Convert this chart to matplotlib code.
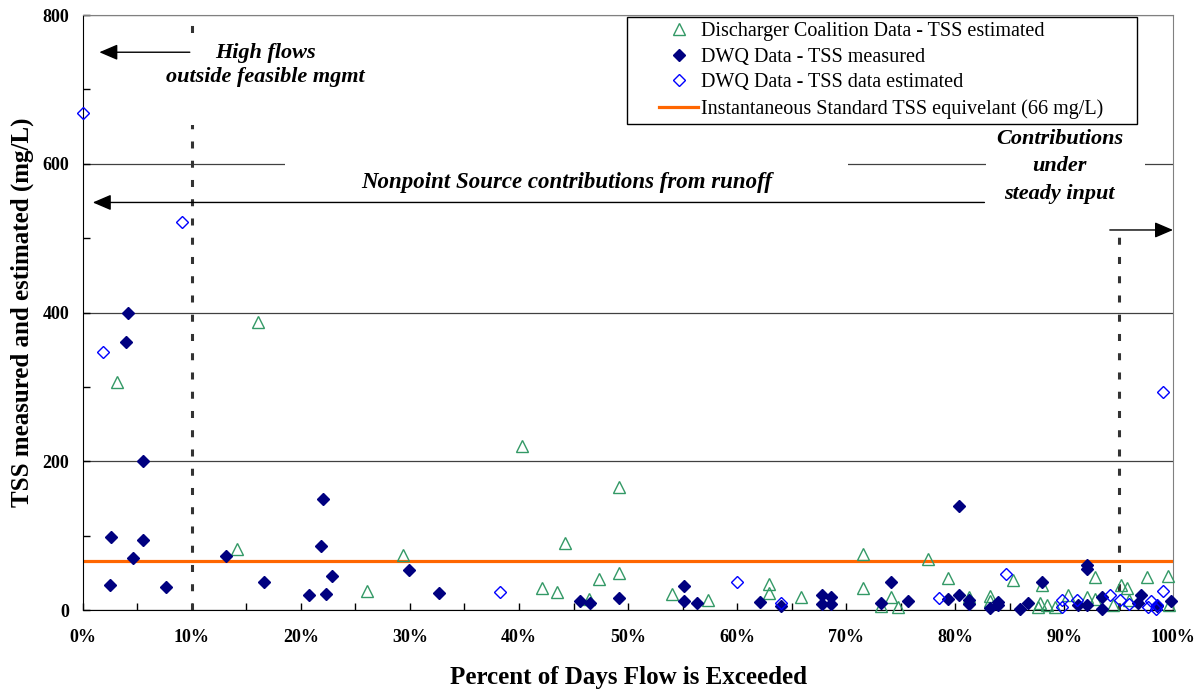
import matplotlib
matplotlib.use('Agg')
import matplotlib.pyplot as plt
from matplotlib.lines import Line2D
from matplotlib.legend_handler import HandlerLine2D
from matplotlib.patches import Rectangle
from matplotlib.ticker import MultipleLocator, PercentFormatter

plt.rcParams['font.family'] = ['Liberation Serif', 'DejaVu Serif']

# Discharger Coalition Data - TSS estimated (percent exceeded, mg/L)
coal_pct = [3.1, 14.1, 16.1, 26.1, 29.4, 40.3, 42.1, 43.5, 44.2, 46.4, 47.3, 49.2, 49.2,
            54.0, 57.3, 62.9, 62.9, 65.9, 71.6, 71.6, 73.2, 74.1, 74.8, 77.5, 79.4, 81.3,
            83.2, 83.2, 85.3, 87.6, 87.8, 88.0, 88.4, 89.2, 90.4, 92.1, 92.8, 92.8, 94.5,
            95.2, 95.8, 96.0, 97.6, 99.5, 99.6]
coal_tss = [306, 82, 387, 25, 74, 221, 29, 24, 90, 15, 42, 165, 50,
            21, 13, 35, 23, 17, 75, 30, 6, 17, 4, 68, 43, 17,
            19, 12, 41, 4, 9, 34, 7, 4, 20, 17, 44, 15, 7,
            34, 29, 13, 44, 46, 7]

# DWQ Data - TSS measured
meas_pct = [2.5, 2.6, 3.9, 4.1, 4.6, 5.5, 5.5, 7.6, 13.1, 16.6, 20.7, 21.8, 22.0, 22.3,
            22.8, 29.9, 32.7, 45.6, 46.5, 49.2, 55.1, 55.1, 56.3, 62.1, 64.0, 67.8, 67.8,
            68.6, 68.6, 73.2, 74.1, 75.7, 79.4, 80.4, 80.4, 81.3, 81.3, 83.2, 83.9, 83.9,
            86.0, 86.7, 88.0, 91.3, 92.1, 92.1, 92.1, 93.5, 93.5, 96.8, 97.1, 98.5, 99.8]
meas_tss = [34, 98, 360, 400, 70, 94, 200, 31, 73, 38, 20, 86, 149, 21,
            46, 54, 23, 12, 9, 16, 32, 12, 9, 11, 5, 20, 8,
            18, 8, 10, 38, 12, 15, 140, 20, 13, 8, 3, 11, 7,
            1, 9, 38, 7, 60, 55, 7, 18, 2, 9, 20, 6, 12]

# DWQ Data - TSS data estimated
est_pct = [0.0, 1.8, 9.1, 38.3, 60.0, 64.0, 78.5, 84.7, 89.8, 89.8, 91.2, 94.2, 95.1,
           96.0, 97.7, 98.0, 98.4, 98.5, 99.1, 99.1]
est_tss = [668, 347, 522, 24, 38, 10, 16, 49, 13, 4, 13, 20, 13,
           8, 4, 12, 2, 7, 25, 293]

standard = 66
zone_bounds = [10, 95]

fig = plt.figure(figsize=(12.01, 6.9), dpi=100)
ax = fig.add_axes([0.0691, 0.1159, 0.9076, 0.8623])

ax.set_xlim(0, 100)
ax.set_ylim(0, 800)
ax.set_axisbelow(True)
ax.grid(axis='y', color='#404040', lw=0.9)
ax.xaxis.set_major_locator(MultipleLocator(10))
ax.xaxis.set_minor_locator(MultipleLocator(5))
ax.yaxis.set_major_locator(MultipleLocator(200))
ax.yaxis.set_minor_locator(MultipleLocator(100))
ax.xaxis.set_major_formatter(PercentFormatter(xmax=100, decimals=0))
ax.tick_params(which='both', direction='in', length=5, width=1)
ax.tick_params(axis='x', pad=14)
ax.tick_params(axis='y', pad=10)
for lab in ax.get_xticklabels() + ax.get_yticklabels():
    lab.set_fontsize(13)
    lab.set_fontweight('bold')
ax.spines['top'].set_color('#808080')
ax.spines['right'].set_color('#808080')

# vertical zone dividers
for b in zone_bounds:
    ax.axvline(b, color='#333333', lw=2.2, ls=(0, (2.3, 4)), zorder=1.5)

# white text boxes that hide grid/divider lines
for x0, y0, w, h in [(0.096, 0.815, 0.167, 0.151), (0.185, 0.696, 0.517, 0.077),
                     (0.828, 0.635, 0.146, 0.185)]:
    ax.add_patch(Rectangle((x0, y0), w, h, transform=ax.transAxes,
                           facecolor='white', edgecolor='none', zorder=2))

ax.axhline(standard, color='#FF6600', lw=2.3, zorder=2.5,
           label='Instantaneous Standard TSS equivelant (66 mg/L)')
ax.plot(coal_pct, coal_tss, ls='none', marker='^', ms=9, mfc='none', mec='#339966',
        mew=1, zorder=3, clip_on=False, label='Discharger Coalition Data - TSS estimated')
ax.plot(meas_pct, meas_tss, ls='none', marker='D', ms=6.3, color='#000080',
        zorder=3, clip_on=False, label='DWQ Data - TSS measured')
ax.plot(est_pct, est_tss, ls='none', marker='D', ms=6.3, mfc='none', mec='#0000FF',
        mew=1, zorder=3, clip_on=False, label='DWQ Data - TSS data estimated')

# annotations
txt = dict(fontweight='bold', fontstyle='italic', ha='center', va='center', zorder=6)
ax.text(16.7, 733, 'High flows\noutside feasible mgmt', fontsize=16, linespacing=1.3, **txt)
ax.text(44.4, 575, 'Nonpoint Source contributions from runoff', fontsize=16.5, **txt)
ax.text(89.6, 597, 'Contributions\nunder\nsteady input', fontsize=16, linespacing=1.5,
        **txt)

arr = dict(arrowstyle='-|>,head_length=0.7,head_width=0.3', color='black', lw=1,
           shrinkA=0, shrinkB=0, mutation_scale=16)
ax.annotate('', xy=(1.5, 750), xytext=(9.8, 750), arrowprops=arr, zorder=6)
ax.annotate('', xy=(0.9, 548), xytext=(82.7, 548), arrowprops=arr, zorder=6)
ax.annotate('', xy=(100, 511), xytext=(94.2, 511), arrowprops=arr, zorder=6,
            annotation_clip=False)

h, l = ax.get_legend_handles_labels()
order = [1, 2, 3, 0]
leg = ax.legend([h[i] for i in order], [l[i] for i in order], loc='upper left',
                bbox_to_anchor=(0.499, 0.82, 0.468, 0.177), mode='expand',
                fontsize=14.5, frameon=True, fancybox=False, framealpha=1,
                borderaxespad=0, labelspacing=0.33, handlelength=3.3,
                handletextpad=0.15, borderpad=0.25,
                handler_map={Line2D: HandlerLine2D(xpad=1.35)})
leg.get_frame().set_edgecolor('black')
leg.get_frame().set_linewidth(1)
leg.set_zorder(7)

ax.set_xlabel('Percent of Days Flow is Exceeded', fontsize=18, fontweight='bold',
              labelpad=14)
ax.set_ylabel('TSS measured and estimated (mg/L)', fontsize=18, fontweight='bold',
              labelpad=6)

fig.savefig('out.png', dpi=100)
